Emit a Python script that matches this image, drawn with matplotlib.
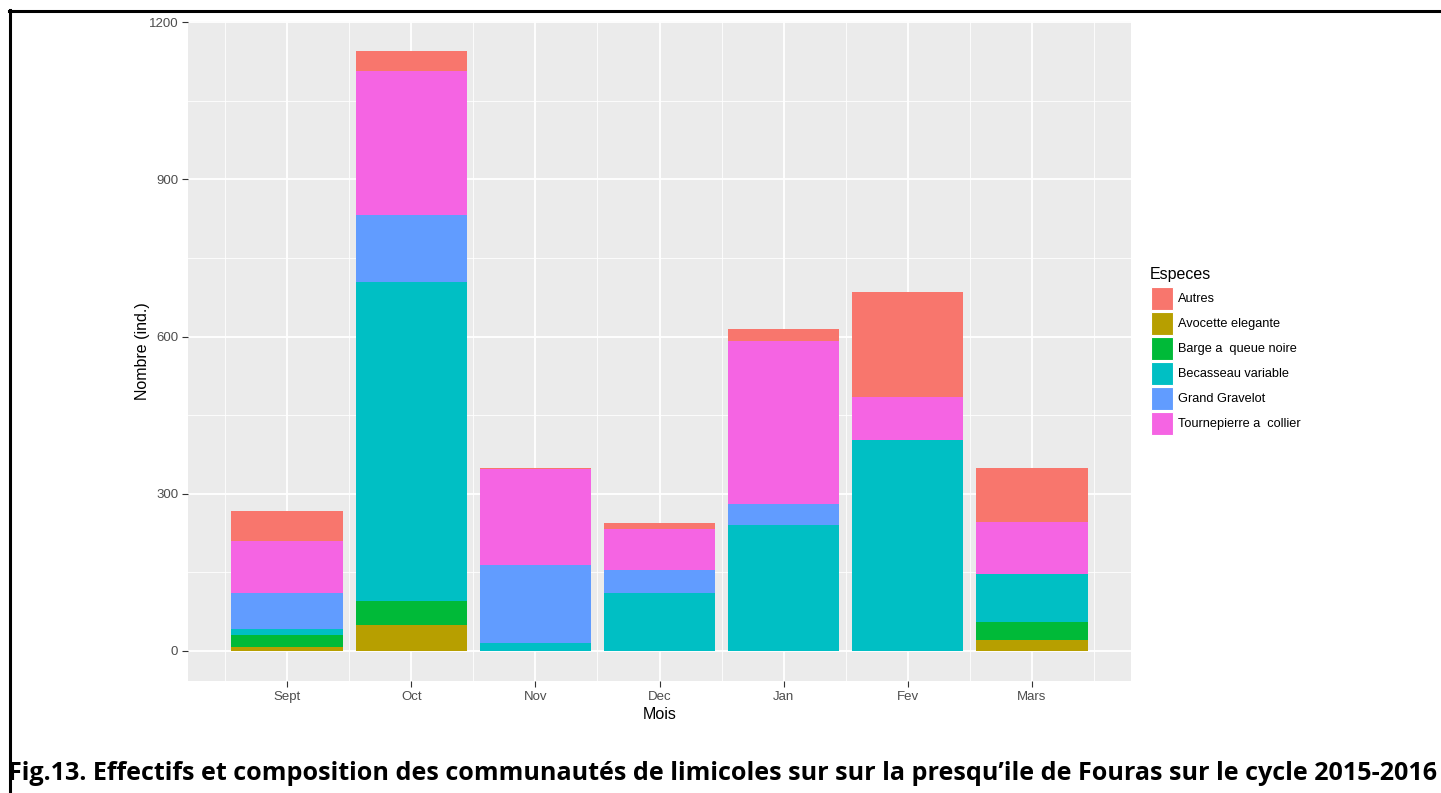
import numpy as np
import matplotlib
matplotlib.use("Agg")
import matplotlib.pyplot as plt
from matplotlib.patches import Rectangle
from matplotlib.lines import Line2D

months = ["Sept", "Oct", "Nov", "Dec", "Jan", "Fev", "Mars"]
species = ["Autres", "Avocette elegante", "Barge a  queue noire",
           "Becasseau variable", "Grand Gravelot", "Tournepierre a  collier"]
colors = ["#F8766D", "#B79F00", "#00BA38", "#00BFC4", "#619CFF", "#F564E3"]

autres = [58, 40, 2, 12, 24, 202, 102]
avocette = [8, 49, 0, 0, 0, 0, 21]
barge = [22, 47, 0, 0, 0, 0, 35]
becasseau = [11, 609, 16, 110, 241, 402, 90]
gravelot = [69, 128, 149, 45, 39, 0, 0]
tournepierre = [100, 273, 183, 78, 311, 82, 101]

# stacking order from bottom (ggplot reverse of legend order)
series = [avocette, barge, becasseau, gravelot, tournepierre, autres]
series_colors = [colors[1], colors[2], colors[3], colors[4], colors[5], colors[0]]

W, H = 1441, 793
fig = plt.figure(figsize=(W / 100, H / 100), dpi=100)
plt.rcParams['font.family'] = ['Liberation Sans', 'DejaVu Sans']

ax = fig.add_axes([188 / W, 1 - 681 / H, (1131 - 188) / W, (681 - 20.5) / H])
ax.set_facecolor("#EBEBEB")
x = np.arange(len(months))
bottom = np.zeros(len(months))
for vals, c in zip(series, series_colors):
    vals = np.array(vals, dtype=float)
    ax.bar(x, vals, bottom=bottom, width=0.9, color=c, zorder=3, linewidth=0)
    bottom += vals

total_max = bottom.max()
ax.set_ylim(-0.05 * total_max, 1.05 * total_max)
ax.set_xlim(-0.8, len(months) - 1 + 0.8)
ax.set_yticks([0, 300, 600, 900, 1200])
ax.set_yticks([150, 450, 750, 1050], minor=True)
ax.set_xticks(x)
ax.set_xticklabels(months)
ax.set_xticks(list(x[:-1] + 0.5) + [-0.5, len(months) - 0.5], minor=True)
ax.grid(which="major", color="white", linewidth=1.3, zorder=0)
ax.grid(which="minor", color="white", linewidth=0.6, zorder=0)
ax.set_axisbelow(True)
for s in ax.spines.values():
    s.set_visible(False)
ax.tick_params(which="major", length=4, width=0.8, color="#333333",
               labelcolor="#4D4D4D", labelsize=9.5, pad=3)
ax.tick_params(which="minor", length=0)
ax.set_xlabel("Mois", fontsize=11.5, labelpad=3)
ax.set_ylabel("Nombre (ind.)", fontsize=11.5, labelpad=-1)

# legend
fig.text(1150 / W, 1 - 274 / H, "Especes", fontsize=11.5, va="center", ha="left")
for i, (name, c) in enumerate(zip(species, colors)):
    y0 = 287 + i * 25
    fig.add_artist(Rectangle((1151 / W, 1 - (y0 + 23) / H), 22 / W, 23 / H,
                             transform=fig.transFigure, facecolor=c,
                             edgecolor="white", linewidth=0.8))
    fig.text(1178 / W, 1 - (y0 + 12) / H, name, fontsize=9.2, va="center", ha="left")

# frame lines
fig.add_artist(Line2D([9.5 / W, 9.5 / W], [0, 1 - 10 / H], transform=fig.transFigure,
                      color="black", linewidth=2.2))
fig.add_artist(Line2D([8.5 / W, 1], [1 - 11 / H, 1 - 11 / H], transform=fig.transFigure,
                      color="black", linewidth=2.2))

# caption
cap = fig.text(722 / W, 1 - 773 / H,
               "Fig.13. Effectifs et composition des communautés de limicoles sur sur la presqu\u2019ile de Fouras sur le cycle 2015-2016",
               fontsize=16, fontweight="bold", ha="center", va="center",
               family=["Open Sans", "DejaVu Sans"])
fig.canvas.draw()
bb = cap.get_window_extent()
cap.set_fontsize(16 * 1428 / bb.width)

fig.savefig("out.png", dpi=100)
